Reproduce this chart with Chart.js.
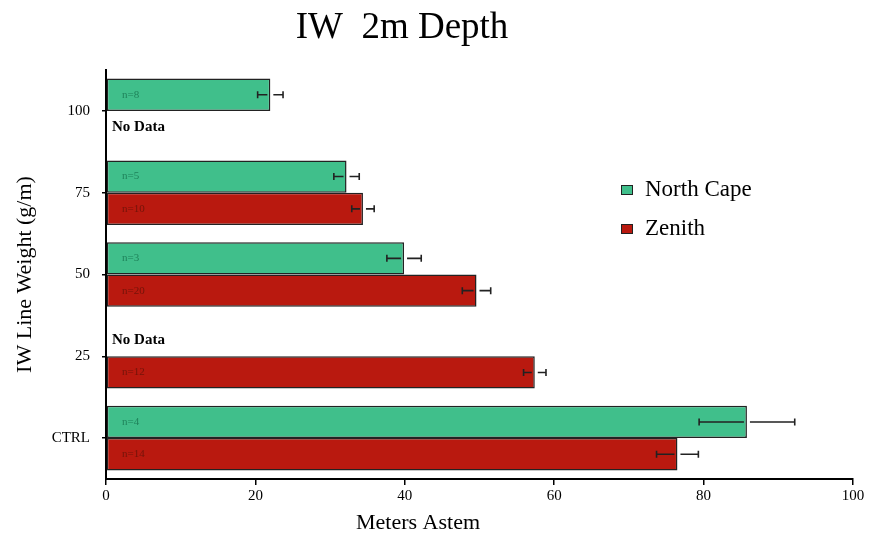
<!DOCTYPE html>
<html>
<head>
<meta charset="utf-8">
<script src="https://cdn.jsdelivr.net/npm/chart.js@4.4.1/dist/chart.umd.min.js"></script>
<style>
  html, body { margin: 0; padding: 0; background: #fff; }
  #wrap { width: 871px; height: 534px; position: relative; }
</style>
</head>
<body>
<div id="wrap"><canvas id="chart"></canvas></div>
<script>
// Data
const categories = ['100', '75', '50', '25', 'CTRL'];
const northCape = [22.0, 32.2, 39.9, null, 85.8];
const northCapeErr = [1.7, 1.7, 2.3, null, 6.4];
const northCapeN = [8, 5, 3, null, 4];
const zenith = [null, 34.4, 49.6, 57.4, 76.5];
const zenithErr = [null, 1.5, 1.9, 1.5, 2.8];
const zenithN = [null, 10, 20, 12, 14];
const xTicks = [0, 20, 40, 60, 80, 100];

const SERIF = '"Liberation Serif", "DejaVu Serif", serif';
const GREEN = 'rgb(64, 191, 139)';
const RED = 'rgb(185, 25, 15)';
const CAT_PCT = 0.79;

// Error bars, n= labels, "No Data" notes
const annotations = {
    id: 'annotations',
    afterDatasetsDraw(chart) {
        const ctx = chart.ctx;
        const xs = chart.scales.x;
        const ys = chart.scales.y;
        const band = ys.height / categories.length;
        const slot = band * CAT_PCT / 2;
        const sets = [
            { vals: northCape, err: northCapeErr, n: northCapeN, text: 'rgb(30, 130, 90)', off: -slot / 2 },
            { vals: zenith, err: zenithErr, n: zenithN, text: 'rgb(115, 20, 10)', off: slot / 2 }
        ];
        ctx.save();
        sets.forEach(s => {
            s.vals.forEach((v, i) => {
                const y = ys.getPixelForValue(i) + s.off;
                if (v === null) {
                    ctx.fillStyle = '#000';
                    ctx.font = 'bold 15px ' + SERIF;
                    ctx.textAlign = 'left';
                    ctx.textBaseline = 'middle';
                    ctx.fillText('No Data', xs.left + 6, y);
                    return;
                }
                const end = xs.getPixelForValue(v);
                const lo = xs.getPixelForValue(v - s.err[i]);
                const hi = xs.getPixelForValue(v + s.err[i]);
                ctx.strokeStyle = '#222';
                ctx.lineWidth = 1.6;
                ctx.beginPath();
                ctx.moveTo(lo, y); ctx.lineTo(end - 3, y);
                ctx.moveTo(end + 3, y); ctx.lineTo(hi, y);
                ctx.moveTo(lo, y - 3.5); ctx.lineTo(lo, y + 3.5);
                ctx.moveTo(hi, y - 3.5); ctx.lineTo(hi, y + 3.5);
                ctx.stroke();

                ctx.fillStyle = s.text;
                ctx.font = '11px ' + SERIF;
                ctx.textAlign = 'left';
                ctx.textBaseline = 'middle';
                ctx.fillText('n=' + s.n[i], xs.left + 16, y);
            });
        });
        ctx.restore();
    }
};

// Title, x axis title and legend drawn by hand to sit where the original puts them
const titleLegend = {
    id: 'titleLegend',
    afterDraw(chart) {
        const ctx = chart.ctx;
        ctx.save();
        ctx.fillStyle = '#000';
        ctx.font = '37px ' + SERIF;
        ctx.textAlign = 'center';
        ctx.textBaseline = 'alphabetic';
        ctx.fillText('IW  2m Depth', 402, 38);

        ctx.font = '22px ' + SERIF;
        ctx.fillText('Meters Astem', 418, 529);

        const items = [['North Cape', GREEN, 190], ['Zenith', RED, 229]];
        items.forEach(([label, color, y]) => {
            ctx.fillStyle = color;
            ctx.fillRect(621, y - 5, 12, 10);
            ctx.strokeStyle = '#222';
            ctx.lineWidth = 1;
            ctx.strokeRect(621.5, y - 4.5, 11, 9);
            ctx.fillStyle = '#000';
            ctx.font = '23px ' + SERIF;
            ctx.textAlign = 'left';
            ctx.textBaseline = 'middle';
            ctx.fillText(label, 645, y);
        });
        ctx.restore();
    }
};

new Chart(document.getElementById('chart'), {
    type: 'bar',
    data: {
        labels: categories,
        datasets: [
            {
                label: 'North Cape',
                data: northCape,
                backgroundColor: GREEN,
                borderColor: '#222',
                borderWidth: 1.5,
                borderSkipped: false,
                categoryPercentage: CAT_PCT,
                barPercentage: 1
            },
            {
                label: 'Zenith',
                data: zenith,
                backgroundColor: RED,
                borderColor: '#222',
                borderWidth: 1.5,
                borderSkipped: false,
                categoryPercentage: CAT_PCT,
                barPercentage: 1
            }
        ]
    },
    options: {
        indexAxis: 'y',
        responsive: true,
        maintainAspectRatio: false,
        animation: false,
        layout: { padding: { top: 70, right: 18, left: 0, bottom: 0 } },
        plugins: {
            legend: { display: false },
            tooltip: { enabled: false }
        },
        scales: {
            x: {
                min: 0,
                max: 100,
                afterFit: s => { s.height = 55; },
                afterBuildTicks: s => { s.ticks = xTicks.map(v => ({ value: v })); },
                grid: { display: true, drawOnChartArea: false, drawTicks: true, tickLength: 6, tickColor: '#000', lineWidth: 1.5 },
                border: { color: '#000', width: 2 },
                ticks: { color: '#000', font: { family: SERIF, size: 15 }, padding: 2, maxRotation: 0 }
            },
            y: {
                afterFit: s => { s.width = 106; },
                grid: { display: true, offset: false, drawOnChartArea: false, drawTicks: true, tickLength: 4, tickColor: '#000', lineWidth: 1.5 },
                border: { color: '#000', width: 2 },
                ticks: { color: '#000', font: { family: SERIF, size: 15 }, padding: 12 },
                title: { display: true, text: 'IW Line Weight (g/m)', color: '#000', font: { family: SERIF, size: 22 }, padding: { top: 12, bottom: 0 } }
            }
        }
    },
    plugins: [annotations, titleLegend]
});
</script>
</body>
</html>
